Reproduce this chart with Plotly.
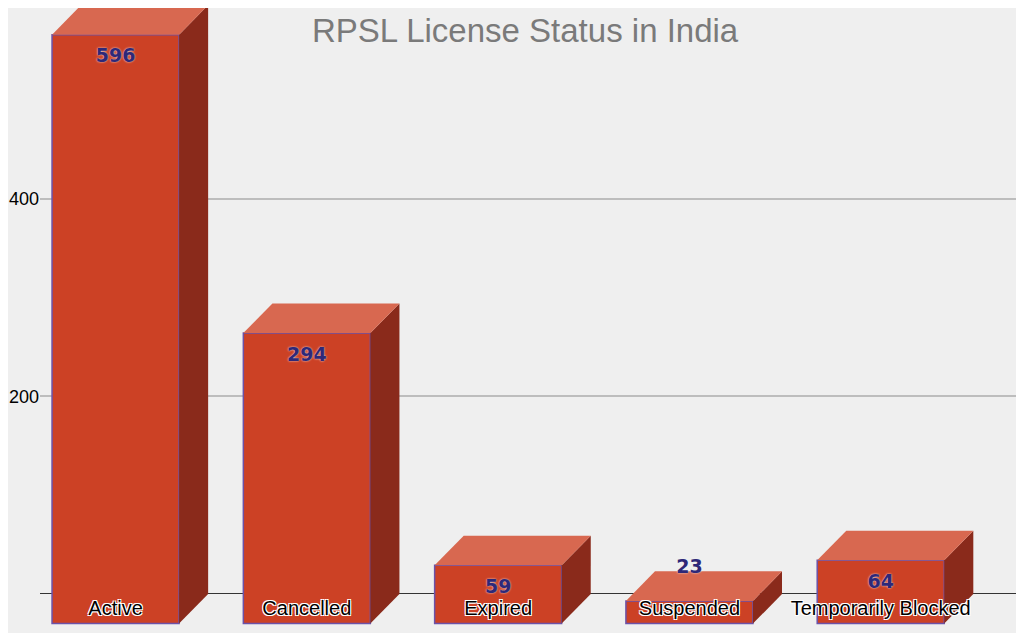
import plotly.graph_objects as go

categories = ["Active", "Cancelled", "Expired", "Suspended", "Temporarily Blocked"]
values = [596, 294, 59, 23, 64]

# fake 3D depth in data units
dx = 0.152
dy = 30
width = 0.664

front_color = "#CC4125"
top_color = "#D86850"
side_color = "#8A2A1B"

fig = go.Figure()
xs = list(range(len(categories)))

for i, v in zip(xs, values):
    left, right = i - width / 2, i + width / 2
    ftop, fbot = v - dy, -dy
    # side face
    fig.add_trace(go.Scatter(
        x=[right, right + dx, right + dx, right, right],
        y=[fbot, fbot + dy, v, ftop, fbot],
        fill="toself", fillcolor=side_color, mode="lines",
        line=dict(width=0, color=side_color), hoverinfo="skip", showlegend=False))
    # top face
    fig.add_trace(go.Scatter(
        x=[left, left + dx, right + dx, right, left],
        y=[ftop, v, v, ftop, ftop],
        fill="toself", fillcolor=top_color, mode="lines",
        line=dict(width=0, color=top_color), hoverinfo="skip", showlegend=False))

# front faces
fig.add_trace(go.Bar(
    x=xs, y=values, base=[-dy] * len(values), width=width,
    marker=dict(color=front_color, line=dict(color="#6B52A8", width=1.5)),
    showlegend=False, hoverinfo="skip"))

# value labels
label_y = [v - dy - 23 if v > 40 else v + 3 for v in values]
fig.add_trace(go.Scatter(
    x=xs, y=label_y, mode="text", text=[str(v) for v in values],
    textfont=dict(family="DejaVu Sans", size=19, color="#2E2878", weight="bold",
                  shadow="0 0 2px #EFEFEF"),
    showlegend=False, hoverinfo="skip"))

# category labels
fig.add_trace(go.Scatter(
    x=xs, y=[-16] * len(xs), mode="text", text=categories,
    textfont=dict(family="Liberation Sans", size=20, color="black",
                  shadow="-1px -1px 0 #fff, 1px -1px 0 #fff, -1px 1px 0 #fff, 1px 1px 0 #fff"),
    showlegend=False, hoverinfo="skip"))

fig.update_layout(
    width=1024, height=633,
    paper_bgcolor="#EFEFEF", plot_bgcolor="#EFEFEF",
    margin=dict(l=32, r=8, t=0, b=8),
    title=dict(text="RPSL License Status in India", x=0.505, y=0.965,
               xanchor="center", yanchor="middle",
               font=dict(family="Liberation Sans", size=33, color="#7A7A7A")),
    xaxis=dict(range=[-0.395, 4.749], showticklabels=False, showgrid=False,
               zeroline=False),
    yaxis=dict(range=[-39.5, 593], tickvals=[0, 200, 400],
               ticktext=["", "200", "400"], gridcolor="#BDBDBD",
               gridwidth=1.5, zeroline=True, zerolinecolor="#333333",
               zerolinewidth=1.2, tickfont=dict(family="Liberation Sans",
                                                size=18, color="black")),
)

fig.write_html("out.html")
